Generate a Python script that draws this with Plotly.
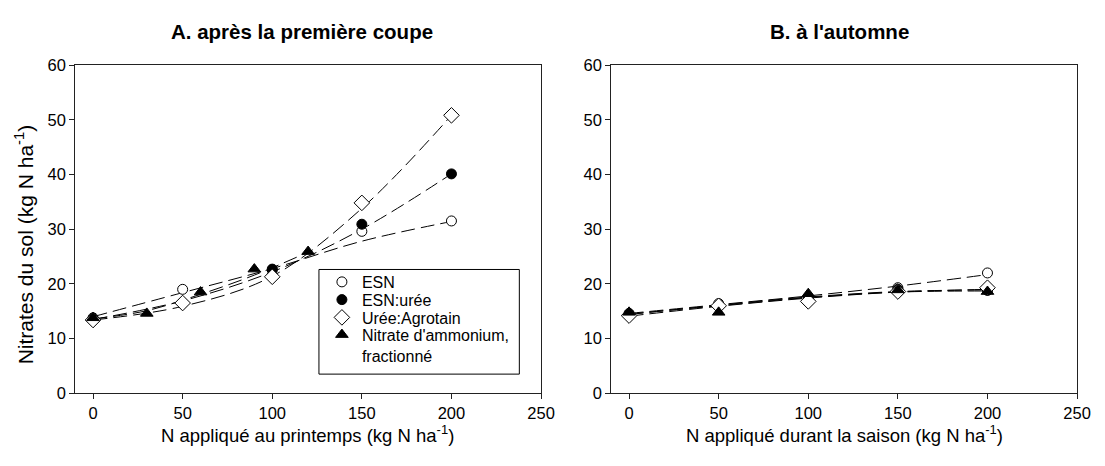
import plotly.graph_objects as go

# The page keeps the browser's default 8px body margin, so the figure is
# sized to fill the 1105x466 window exactly inside that margin.
WIN_W, WIN_H = 1105, 466
OFF = 8
W, H = WIN_W - 2 * OFF, WIN_H - 2 * OFF

# ---------------- data ----------------
series_names = ["ESN", "ESN:urée", "Urée:Agrotain", "Nitrate d'ammonium,<br>fractionné"]

# Panel A: après la première coupe (points)
a_x_main = [0, 50, 100, 150, 200]
a_esn = [13.8, 19.0, 22.5, 29.6, 31.5]
a_esn_uree = [13.6, 16.5, 22.7, 30.9, 40.1]
a_uree_agro = [13.4, 16.5, 21.3, 34.8, 50.8]
a_x_nitrate = [0, 30, 60, 90, 120]
a_nitrate = [13.8, 14.6, 18.5, 22.7, 25.9]

# Panel A fitted curves
a_fit_x = [0, 50, 100, 150, 200]
a_fit_esn = [14.0, 18.4, 22.8, 27.8, 31.4]
a_fit_esn_uree = [13.5, 16.9, 22.2, 30.0, 40.1]
a_fit_uree_agro = [13.4, 15.9, 21.4, 33.8, 50.8]
a_fit_x_nitrate = [0, 30, 60, 90, 120]
a_fit_nitrate = [13.6, 15.1, 18.1, 21.6, 25.8]

# Panel B: à l'automne (points)
b_x = [0, 50, 100, 150, 200]
b_esn = [14.6, 16.4, 17.5, 19.3, 22.0]
b_esn_uree = [14.5, 16.1, 17.6, 19.0, 18.8]
b_uree_agro = [14.2, 16.0, 16.8, 18.6, 19.3]
b_nitrate = [14.8, 14.8, 18.2, 18.9, 18.6]

# Panel B fitted curves
b_fit_x = [0, 50, 100, 150, 200]
b_fit_esn = [14.6, 16.2, 17.8, 19.6, 21.7]
b_fit_esn_uree = [14.4, 16.1, 17.6, 18.6, 18.9]
b_fit_uree_agro = [14.1, 15.9, 17.4, 18.5, 19.0]
b_fit_nitrate = [14.5, 16.0, 17.5, 18.5, 18.7]

x_ticks = [0, 50, 100, 150, 200, 250]
y_ticks = [0, 10, 20, 30, 40, 50, 60]

# ---------------- styles ----------------
FONT = "Liberation Sans, Arial, sans-serif"
marker_styles = [
    dict(symbol="circle", size=10, color="white", line=dict(color="black", width=1)),
    dict(symbol="circle", size=10, color="black", line=dict(color="black", width=1)),
    dict(symbol="diamond", size=12, color="white", line=dict(color="black", width=1)),
    dict(symbol="triangle-up", size=11, color="black", line=dict(color="black", width=1)),
]
dash_line = dict(color="black", width=1, dash="14px,6px", shape="spline")
legend_ids = ["legend", "legend2", "legend3", "legend4"]

fig = go.Figure()

def add_panel(xa, ya, fits, points, legend):
    for fx, fy in fits:
        fig.add_trace(go.Scatter(x=fx, y=fy, mode="lines", line=dash_line,
                                 showlegend=False, hoverinfo="skip",
                                 xaxis=xa, yaxis=ya))
    for i, (px, py) in enumerate(points):
        fig.add_trace(go.Scatter(x=px, y=py, mode="markers", marker=marker_styles[i],
                                 name=series_names[i], showlegend=legend,
                                 legend=legend_ids[i], legendgroup=str(i),
                                 xaxis=xa, yaxis=ya))

add_panel("x", "y",
          [(a_fit_x, a_fit_esn), (a_fit_x, a_fit_esn_uree), (a_fit_x, a_fit_uree_agro),
           (a_fit_x_nitrate, a_fit_nitrate)],
          [(a_x_main, a_esn), (a_x_main, a_esn_uree), (a_x_main, a_uree_agro),
           (a_x_nitrate, a_nitrate)], True)
add_panel("x2", "y2",
          [(b_fit_x, b_fit_esn), (b_fit_x, b_fit_esn_uree), (b_fit_x, b_fit_uree_agro),
           (b_fit_x, b_fit_nitrate)],
          [(b_x, b_esn), (b_x, b_esn_uree), (b_x, b_uree_agro), (b_x, b_nitrate)], False)

# window pixel -> paper fraction
def px_x(p):
    return (p - OFF) / W

def px_y(p):
    return 1 - (p - OFF) / H

axis_common = dict(showgrid=False, zeroline=False, showline=True, mirror=True,
                   linecolor="#222", linewidth=1, ticks="outside", ticklen=5,
                   tickcolor="#222", tickfont=dict(family=FONT, size=16.5, color="black"))

# one legend per entry so that rows sit as tightly as in the reference
legend_y = [284.0, 302.5, 321.0, 349.9]
legend_layout = {}
for lid, row in zip(legend_ids, legend_y):
    legend_layout[lid] = dict(
        x=px_x(326), y=px_y(row), xanchor="left",
        yanchor="middle", borderwidth=0, bgcolor="rgba(0,0,0,0)",
        font=dict(family=FONT, size=16, color="black"),
        valign="top" if lid == "legend4" else "middle",
    )

y_top, y_bot = 58, 400
fig.update_layout(
    width=W, height=H,
    margin=dict(l=0, r=0, t=0, b=0),
    paper_bgcolor="white", plot_bgcolor="white",
    font=dict(family=FONT, color="black"),
    xaxis=dict(domain=[px_x(76), px_x(548)], range=[-10, 250], tickvals=x_ticks,
               anchor="y", **axis_common),
    yaxis=dict(domain=[px_y(y_bot), px_y(y_top)], range=[0, 60], tickvals=y_ticks,
               anchor="x", **axis_common),
    xaxis2=dict(domain=[px_x(619), px_x(1091)], range=[-10, 250], tickvals=x_ticks,
                anchor="y2", **axis_common),
    yaxis2=dict(domain=[px_y(y_bot), px_y(y_top)], range=[0, 60], tickvals=y_ticks,
                anchor="x2", **axis_common),
    showlegend=True,
    **legend_layout,
)

# legend frame
fig.add_shape(type="rect", xref="paper", yref="paper",
              x0=px_x(323), x1=px_x(526), y0=px_y(380), y1=px_y(271),
              line=dict(color="black", width=1), fillcolor="white", layer="above")

annotations = [
    dict(text="<b>A. après la première coupe</b>", x=px_x(306), y=px_y(23),
         font=dict(size=20.5)),
    dict(text="<b>B. à l'automne</b>", x=px_x(850), y=px_y(23), font=dict(size=20.5)),
    dict(text="N appliqué au printemps (kg N ha<sup>-1</sup>)", x=px_x(311), y=px_y(442),
         font=dict(size=18.5)),
    dict(text="N appliqué durant la saison (kg N ha<sup>-1</sup>)", x=px_x(855), y=px_y(442),
         font=dict(size=18.5)),
    dict(text="Nitrates du sol (kg N ha<sup>-1</sup>)", x=px_x(24), y=px_y(245),
         textangle=-90, font=dict(size=21)),
]
for a in annotations:
    a.update(xref="paper", yref="paper", showarrow=False, xanchor="center", yanchor="middle")
    a["font"].update(family=FONT, color="black")
fig.update_layout(annotations=annotations)

fig.write_html("out.html", config={"displayModeBar": False})
